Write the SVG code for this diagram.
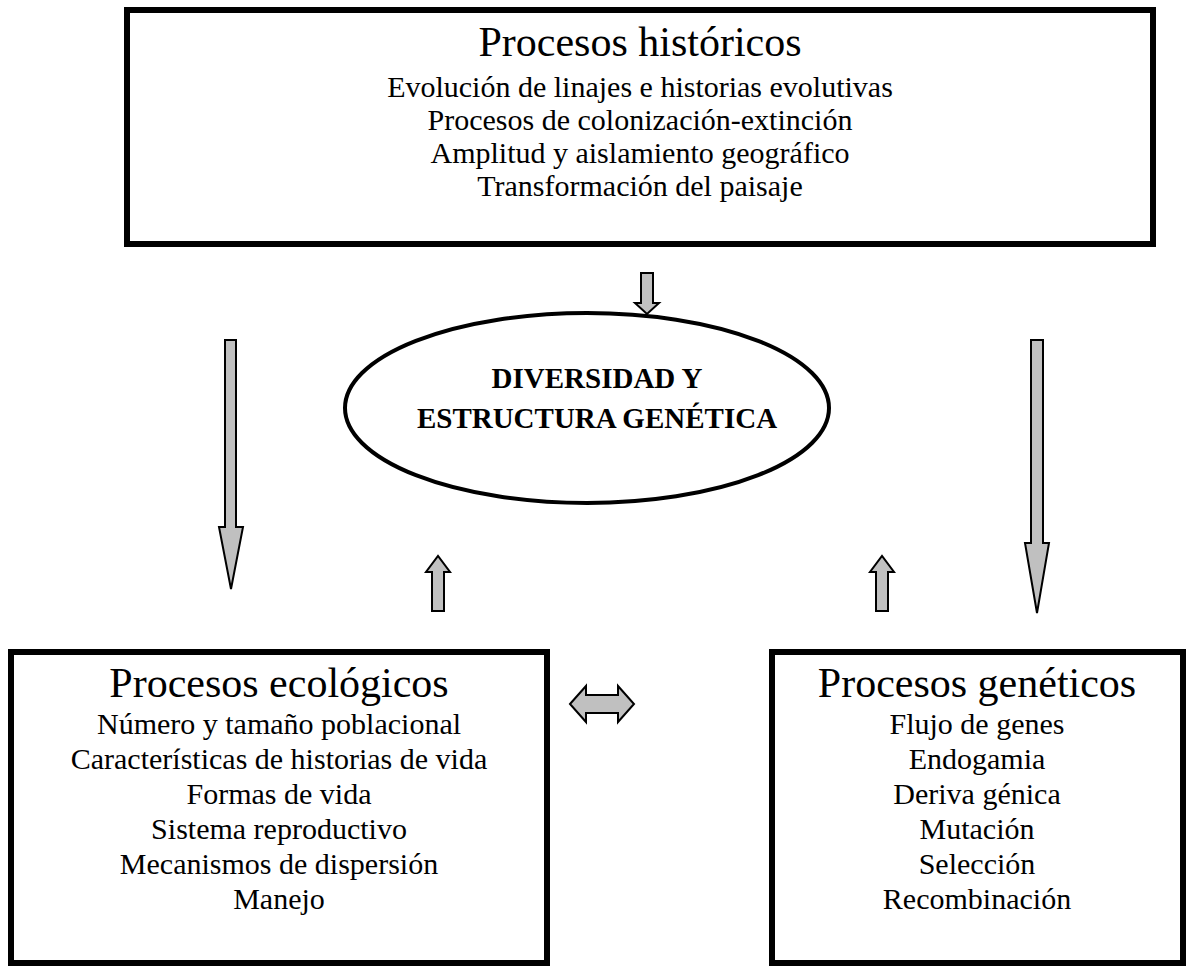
<svg xmlns="http://www.w3.org/2000/svg" width="1188" height="968" viewBox="0 0 1188 968">
<style>
.box{fill:#fff;stroke:#000;stroke-width:6}
.arr{fill:#c0c0c0;stroke:#000;stroke-width:2;stroke-linejoin:miter}
.t{font-family:"Liberation Serif","Times New Roman",serif;fill:#000;text-anchor:middle}
.h{font-size:42px}
.b{font-size:30px}
.e{font-size:29px;font-weight:bold}
</style>
<rect width="1188" height="968" fill="#fff"/>
<g id="historicos">
<rect class="box" x="127" y="10" width="1026" height="234"/>
<text class="t h" x="640" y="56">Procesos históricos</text>
<text class="t b" x="640" y="97">Evolución de linajes e historias evolutivas</text>
<text class="t b" x="640" y="130">Procesos de colonización-extinción</text>
<text class="t b" x="640" y="163">Amplitud y aislamiento geográfico</text>
<text class="t b" x="640" y="196">Transformación del paisaje</text>
</g>
<g id="diversidad">
<ellipse cx="587" cy="408" rx="242" ry="95" fill="#fff" stroke="#000" stroke-width="4"/>
<text class="t e" x="597" y="388">DIVERSIDAD  Y</text>
<text class="t e" x="597" y="428">ESTRUCTURA GENÉTICA</text>
</g>
<g id="ecologicos">
<rect class="box" x="11" y="652" width="536" height="311"/>
<text class="t h" x="279" y="697">Procesos ecológicos</text>
<text class="t b" x="279" y="734">Número y tamaño poblacional</text>
<text class="t b" x="279" y="769">Características de historias de vida</text>
<text class="t b" x="279" y="804">Formas de vida</text>
<text class="t b" x="279" y="839">Sistema reproductivo</text>
<text class="t b" x="279" y="874">Mecanismos de dispersión</text>
<text class="t b" x="279" y="909">Manejo</text>
</g>
<g id="geneticos">
<rect class="box" x="772" y="652" width="411" height="311"/>
<text class="t h" x="977" y="697">Procesos genéticos</text>
<text class="t b" x="977" y="734">Flujo de genes</text>
<text class="t b" x="977" y="769">Endogamia</text>
<text class="t b" x="977" y="804">Deriva génica</text>
<text class="t b" x="977" y="839">Mutación</text>
<text class="t b" x="977" y="874">Selección</text>
<text class="t b" x="977" y="909">Recombinación</text>
</g>
<g id="connectors">
<path class="arr" d="M641,273 h12 v30 h6 l-12,11 l-12,-11 h6 z"/>
<path class="arr" d="M225,340 h11 v187 h7 l-12,62 l-12,-62 h6 z"/>
<path class="arr" d="M1031,340 h12 v203 h6 l-12,70 l-12,-70 h6 z"/>
<path class="arr" d="M432,611 v-39 h-6 l12,-16 l12,16 h-6 v39 z"/>
<path class="arr" d="M876,611 v-39 h-6 l12,-16 l12,16 h-6 v39 z"/>
<path class="arr" d="M570,704 l16,-18 v9 h32 v-9 l16,18 l-16,18 v-9 h-32 v9 z"/>
</g>
</svg>
